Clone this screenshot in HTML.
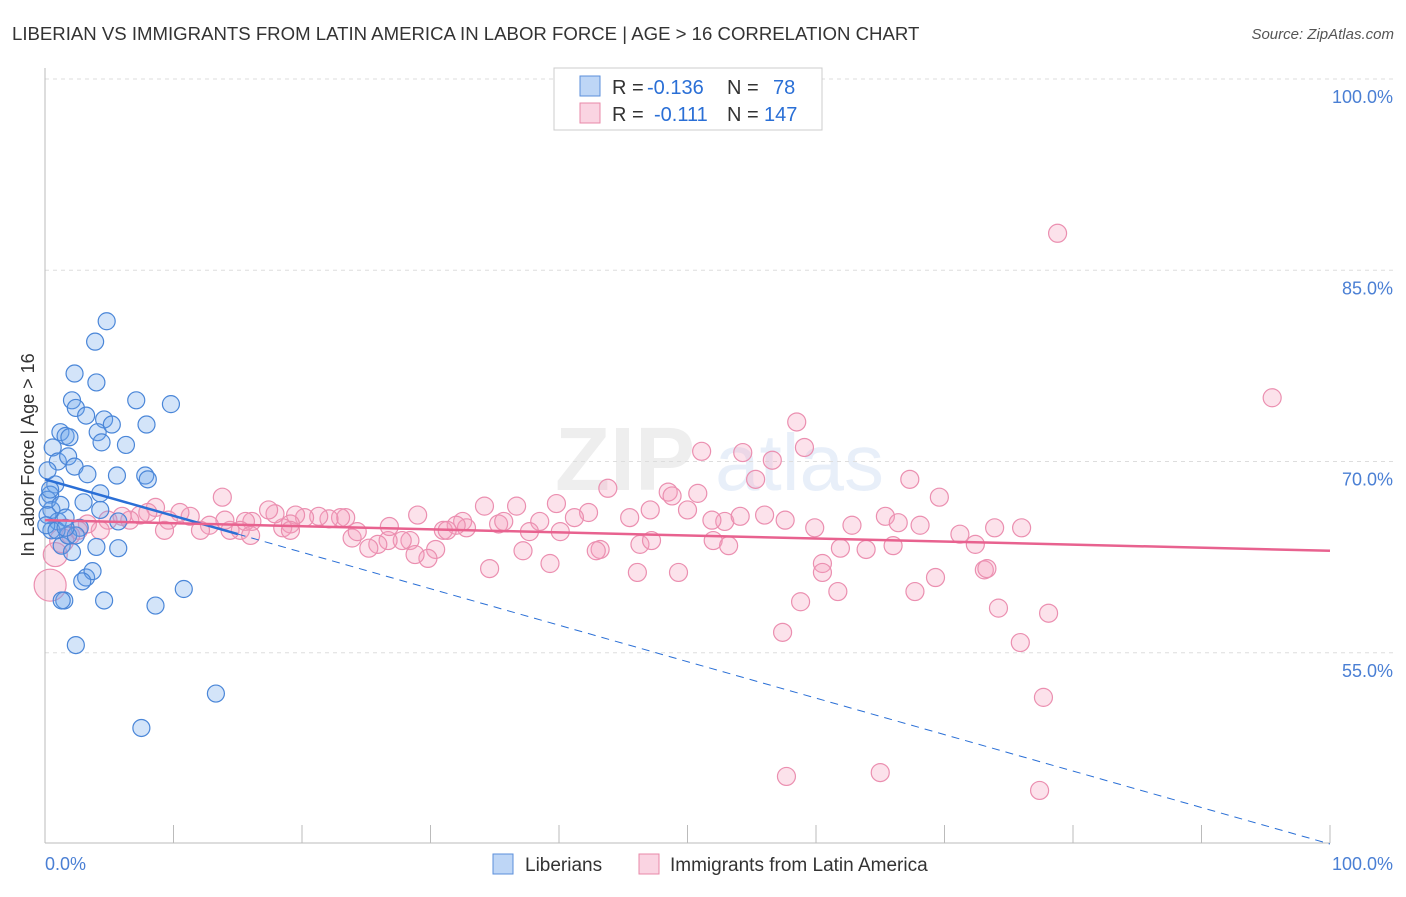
<!DOCTYPE html>
<html><head><meta charset="utf-8"><style>
body{margin:0;background:#fff;font-family:"Liberation Sans",sans-serif}
svg text{font-family:"Liberation Sans",sans-serif}
</style></head><body>
<svg id="chart" width="1406" height="892" xmlns="http://www.w3.org/2000/svg">
<text x="12" y="40" font-size="18.6" fill="#333">LIBERIAN VS IMMIGRANTS FROM LATIN AMERICA IN LABOR FORCE | AGE &gt; 16 CORRELATION CHART</text>
<text x="1394" y="39" font-size="15" fill="#555" text-anchor="end" font-style="italic">Source: ZipAtlas.com</text>
<g opacity="0.12">
<text x="555" y="490" font-size="90" font-weight="bold" fill="#777" font-family="Liberation Serif">ZIP</text>
<text x="715" y="490" font-size="80" fill="#4a7fd4">atlas</text>
</g>
<g id="grid"></g>
<g id="axes"></g>
<g id="pinkpts"></g>
<g id="bluepts"></g>
<g id="trends"></g>
<text transform="translate(34,455) rotate(-90)" font-size="18" fill="#333" text-anchor="middle">In Labor Force | Age &gt; 16</text>
<text x="45" y="870" font-size="18" fill="#4a7fd4">0.0%</text>
<text x="1393" y="870" font-size="18" fill="#4a7fd4" text-anchor="end">100.0%</text>
<g font-size="20">
<rect x="554" y="68" width="268" height="62" fill="#fff" stroke="#ccc"/>
<rect x="580" y="76" width="20" height="20" fill="rgba(110,165,235,0.45)" stroke="#5b8fdb"/>
<rect x="580" y="103" width="20" height="20" fill="rgba(245,160,190,0.45)" stroke="#e889a8"/>
<text x="612" y="94" fill="#333">R =</text>
<text x="647" y="94" fill="#2a6fd6">-0.136</text>
<text x="727" y="94" fill="#333">N =</text>
<text x="773" y="94" fill="#2a6fd6">78</text>
<text x="612" y="121" fill="#333">R =</text>
<text x="654" y="121" fill="#2a6fd6">-0.111</text>
<text x="727" y="121" fill="#333">N =</text>
<text x="764" y="121" fill="#2a6fd6">147</text>
</g>
<g>
<rect x="493" y="854" width="20" height="20" fill="rgba(110,165,235,0.45)" stroke="#5b8fdb"/>
<text x="525" y="871" font-size="19" fill="#333">Liberians</text>
<rect x="639" y="854" width="20" height="20" fill="rgba(245,160,190,0.45)" stroke="#e889a8"/>
<text x="670" y="871" font-size="19" fill="#333">Immigrants from Latin America</text>
</g>
</svg>
<script>
const yTicks=[100,85,70,55];
const yTickLabels=["100.0%","85.0%","70.0%","55.0%"];
const blueX=[4.8,3.9,2.3,4.0,7.1,9.8,2.1,2.4,3.2,7.9,4.6,4.1,1.2,1.6,1.9,5.2,6.3,4.4,0.6,1.0,1.8,2.3,3.3,5.6,7.8,8.0,4.3,3.0,0.8,0.4,0.5,1.0,4.3,2.7,5.7,0.5,1.3,4.0,5.7,1.8,2.4,2.1,3.2,3.7,2.9,1.5,4.6,8.6,10.8,2.4,13.3,7.5,0.2,0.2,0.2,0.1,0.4,1.2,1.6,1.3,0.9,1.6];
const blueY=[81.0,79.4,76.9,76.2,74.8,74.5,74.8,74.2,73.6,72.9,73.3,72.3,72.3,72.0,71.9,72.9,71.3,71.5,71.1,70.0,70.4,69.6,69.0,68.9,68.9,68.6,67.5,66.8,68.2,67.4,66.2,65.3,66.2,64.8,65.3,64.6,63.4,63.3,63.2,64.2,64.2,62.9,60.9,61.4,60.6,59.1,59.1,58.7,60.0,55.6,51.8,49.1,69.3,67.0,65.8,65.0,67.8,66.6,65.6,59.1,64.6,64.8];
const pinkX=[78.8,95.5,58.5,59.1,54.3,56.6,51.1,67.3,69.6,55.3,43.8,48.5,50.8,48.8,13.8,39.8,36.7,34.2,50.0,52.9,56.0,57.6,62.8,65.4,66.4,68.1,71.2,73.9,72.4,66.0,63.9,59.9,54.1,51.9,45.5,47.1,42.3,41.2,43.2,46.3,47.2,52.0,53.2,38.5,37.7,40.1,35.3,35.7,32.5,32.8,32.0,31.0,31.3,29.0,28.4,30.4,29.8,27.8,26.7,25.9,25.2,23.9,24.3,23.4,23.0,22.1,21.3,20.2,19.5,19.1,18.5,17.9,17.4,16.1,15.6,15.2,14.4,14.0,12.8,12.1,11.3,10.5,9.6,9.3,8.6,8.0,7.4,6.6,6.0,4.9,4.3,3.3,2.6,2.0,1.3,0.8,0.4,34.6,37.2,39.3,42.9,46.1,49.3,57.4,58.8,60.5,60.5,61.7,61.9,67.7,69.3,73.1,73.3,74.2,75.9,78.1,77.7,77.4,57.7,65.0,76.0,16.0,26.8,28.8,19.1];
const pinkY=[87.9,75.0,73.1,71.1,70.7,70.1,70.8,68.6,67.2,68.6,67.9,67.6,67.5,67.3,67.2,66.7,66.5,66.5,66.2,65.3,65.8,65.4,65.0,65.7,65.2,65.0,64.3,64.8,63.5,63.4,63.1,64.8,65.7,65.4,65.6,66.2,66.0,65.6,63.1,63.5,63.8,63.8,63.4,65.3,64.5,64.5,65.1,65.3,65.3,64.8,65.0,64.6,64.6,65.8,63.8,63.1,62.4,63.8,63.8,63.5,63.2,64.0,64.5,65.6,65.6,65.5,65.7,65.6,65.8,65.1,64.8,65.9,66.2,65.3,65.3,64.6,64.6,65.4,65.0,64.6,65.7,66.0,65.4,64.6,66.4,66.0,65.8,65.4,65.7,65.4,64.6,65.1,64.6,64.2,63.8,62.7,60.3,61.6,63.0,62.0,63.0,61.3,61.3,56.6,59.0,62.0,61.3,59.8,63.2,59.8,60.9,61.5,61.6,58.5,55.8,58.1,51.5,44.2,45.3,45.6,64.8,64.2,64.9,62.7,64.6];
const blueTrend=[68.6,-0.286];
const pinkTrend=[65.4,-0.024];
const NS="http://www.w3.org/2000/svg";
const X0=45,X1=1330;
function xs(v){return X0+(X1-X0)*v/100;}
function ys(v){return 79+(100-v)*12.75;}
function mk(tag,attrs,parent){const e=document.createElementNS(NS,tag);for(const k in attrs)e.setAttribute(k,attrs[k]);document.getElementById(parent).appendChild(e);return e;}
yTicks.forEach((t,i)=>{
 const l=mk('line',{x1:45,x2:1393,y1:ys(t),y2:ys(t),stroke:'#ddd','stroke-dasharray':'4,4'},'grid');
 
 
 const tx=mk('text',{x:1393,y:ys(t)+24,'font-size':18,fill:'#4a7fd4','text-anchor':'end'},'grid');
 tx.textContent=yTickLabels[i];
 
 
});
const ax=mk('line',{x1:45,x2:45,y1:68,y2:843,stroke:'#bbb'},'axes');


const bx=mk('line',{x1:45,x2:1330,y1:843,y2:843,stroke:'#bbb'},'axes');


for(let i=0;i<=10;i++){
 const t=mk('line',{x1:xs(i*10),x2:xs(i*10),y1:825,y2:843,stroke:'#bbb'},'axes');
 
 
}
pinkX.forEach((v,i)=>{
 const r=v<1.5?(v<0.6?16:12):9;
 const c=mk('circle',{cx:xs(v),cy:ys(pinkY[i]),r:r,fill:'rgba(245,160,190,0.3)',stroke:'#eb8fb0','stroke-width':1.2},'pinkpts');
 
 
});
blueX.forEach((v,i)=>{
 const c=mk('circle',{cx:xs(v),cy:ys(blueY[i]),r:8.5,fill:'rgba(110,165,235,0.3)',stroke:'#4a86d8','stroke-width':1.2},'bluepts');
 
 
});
const bf=v=>blueTrend[0]+blueTrend[1]*v;
const pf=v=>pinkTrend[0]+pinkTrend[1]*v;
let l1=mk('line',{x1:xs(0),y1:ys(bf(0)),x2:xs(15),y2:ys(bf(15)),stroke:'#2a6fd6','stroke-width':2.5},'trends');


let l2=mk('line',{x1:xs(15),y1:ys(bf(15)),x2:xs(100),y2:ys(bf(100)),stroke:'#2a6fd6','stroke-width':1,'stroke-dasharray':'8,6'},'trends');


let l3=mk('line',{x1:xs(0),y1:ys(pf(0)),x2:xs(100),y2:ys(pf(100)),stroke:'#e8628f','stroke-width':2.5},'trends');


</script>
</body></html>
